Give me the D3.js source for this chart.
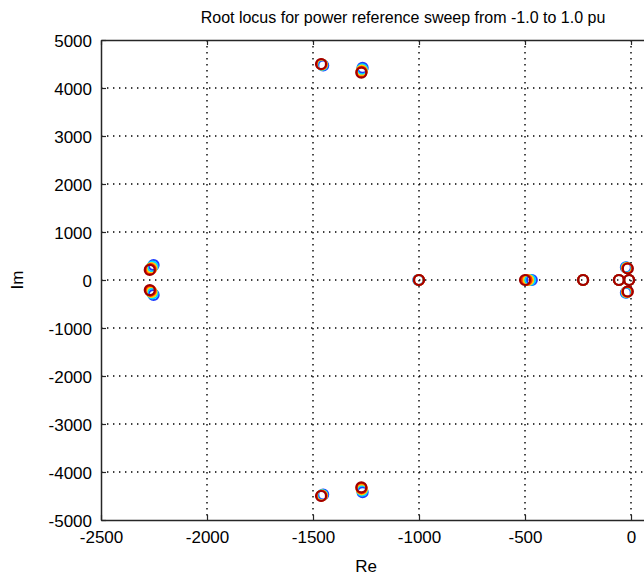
<!DOCTYPE html>
<html>
<head>
<meta charset="utf-8">
<script src="https://cdn.jsdelivr.net/npm/d3@7"></script>
<style>
body{margin:0;background:#fff;}
svg{display:block;font-family:"Liberation Sans",Arial,sans-serif;}
</style>
</head>
<body>
<div id="container"></div>
<script>
// sweep steps of the power reference (pu)
let sweep = [-1.0, -0.5, 0.0, 0.5, 1.0];
let sweepColors = ["#1f3cff", "#00d8ff", "#ffd200", "#ff2a00", "#a00000"];

// eigenvalues, one list per sweep step [Re, Im]
let rootsM10 = [[-1452,4470],[-1266,4420],[-1452,-4470],[-1266,-4420],[-2252,310],[-2252,-310],[-1003,0],[-468,0],[-226,0],[-57,0],[-9,0],[-24,265],[-24,-265]];
let rootsM05 = [[-1456,4480],[-1268,4390],[-1456,-4480],[-1268,-4390],[-2257,280],[-2257,-280],[-1002,0],[-476,0],[-226,0],[-57,0],[-9,0],[-21,258],[-21,-258]];
let roots00 = [[-1458,4490],[-1270,4360],[-1458,-4490],[-1270,-4360],[-2262,250],[-2262,-250],[-1001,0],[-485,0],[-226,0],[-57,0],[-9,0],[-19,250],[-19,-250]];
let roots05 = [[-1460,4495],[-1271,4335],[-1460,-4495],[-1271,-4335],[-2266,225],[-2266,-225],[-1000,0],[-493,0],[-226,0],[-57,0],[-9,0],[-17,244],[-17,-244]];
let roots10 = [[-1462,4500],[-1272,4320],[-1462,-4500],[-1272,-4320],[-2270,210],[-2270,-210],[-1000,0],[-500,0],[-226,0],[-57,0],[-9,0],[-15,240],[-15,-240]];
let rootSets = [rootsM10, rootsM05, roots00, roots05, roots10];

let xTicks = [-2500, -2000, -1500, -1000, -500, 0];
let yTicks = [-5000, -4000, -3000, -2000, -1000, 0, 1000, 2000, 3000, 4000, 5000];

let titleText = "Root locus for power reference sweep from -1.0 to 1.0 pu";

let W = 644, H = 577;
let margin = {top: 40, left: 101};
let plotH = 480;
// x axis runs from -2500 to 500, right part falls outside the picture
let plotW = 636;

let svg = d3.select("#container").append("svg")
	.attr("width", W).attr("height", H);

let xScale = d3.scaleLinear().domain([-2500, 500]).range([margin.left, margin.left + plotW]);
let yScale = d3.scaleLinear().domain([-5000, 5000]).range([margin.top + plotH, margin.top]);

// grid
let grid = svg.append("g").attr("stroke", "#000").attr("stroke-width", 1.4)
	.attr("stroke-dasharray", "1.4,4.6");
xTicks.slice(1).forEach(function(t){
	grid.append("line").attr("x1", xScale(t)).attr("x2", xScale(t))
		.attr("y1", margin.top).attr("y2", margin.top + plotH);
});
yTicks.slice(1, -1).forEach(function(t){
	grid.append("line").attr("y1", yScale(t)).attr("y2", yScale(t))
		.attr("x1", margin.left).attr("x2", margin.left + plotW);
});

// axes (ticks pointing inwards), plain hyphen for the minus sign like matlab
let fmt = d => String(d);
let axisColor = "#262626";
let xAxis = d3.axisBottom(xScale).tickValues(xTicks).tickSizeInner(-5).tickSizeOuter(0).tickPadding(11).tickFormat(fmt);
let yAxis = d3.axisLeft(yScale).tickValues(yTicks).tickSizeInner(-5).tickSizeOuter(0).tickPadding(9).tickFormat(fmt);

let gx = svg.append("g").attr("transform", "translate(0," + (margin.top + plotH) + ")").call(xAxis);
let gy = svg.append("g").attr("transform", "translate(" + margin.left + ",0)").call(yAxis);
let gxTop = svg.append("g").attr("transform", "translate(0," + margin.top + ")")
	.call(d3.axisTop(xScale).tickValues(xTicks).tickSizeInner(-5).tickSizeOuter(0).tickFormat(""));

[gx, gy, gxTop].forEach(function(g){
	g.selectAll("path").attr("stroke", axisColor).attr("stroke-width", 1.5);
	g.selectAll("line").attr("stroke", axisColor).attr("stroke-width", 1.2);
	g.selectAll("text").attr("fill", "#000").style("font-size", "17px")
		.style("font-family", "'Liberation Sans',Arial,sans-serif");
});
gy.selectAll("text").attr("dy", "0.36em");

// roots, each sweep step drawn on top of the previous one
rootSets.forEach(function(set, i){
	svg.append("g").selectAll("circle").data(set).join("circle")
		.attr("cx", d => xScale(d[0]))
		.attr("cy", d => yScale(d[1]))
		.attr("r", 5)
		.attr("fill", "none")
		.attr("stroke", sweepColors[i])
		.attr("stroke-width", 2.2);
});

// labels
svg.append("text").attr("x", 403).attr("y", 23).attr("text-anchor", "middle")
	.style("font-size", "16px").text(titleText);
svg.append("text").attr("x", 366).attr("y", 572).attr("text-anchor", "middle")
	.style("font-size", "17px").text("Re");
svg.append("text").attr("transform", "translate(23,280) rotate(-90)").attr("text-anchor", "middle")
	.style("font-size", "17px").text("Im");
</script>
</body>
</html>
